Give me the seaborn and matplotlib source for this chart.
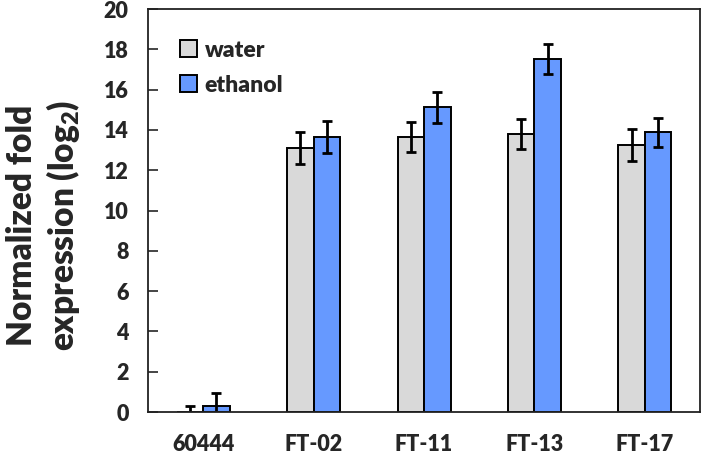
import numpy as np
import pandas as pd
import matplotlib
matplotlib.use("Agg")
import matplotlib.pyplot as plt
import seaborn as sns

# values
strains = ["60444", "FT-02", "FT-11", "FT-13", "FT-17"]
water = [0.02, 13.1, 13.66, 13.8, 13.27]
water_err = [0.3, 0.8, 0.75, 0.75, 0.8]
ethanol = [0.3, 13.65, 15.12, 17.52, 13.88]
ethanol_err = [0.65, 0.8, 0.76, 0.75, 0.73]

df = pd.DataFrame({
    "strain": strains * 2,
    "treatment": ["water"] * 5 + ["ethanol"] * 5,
    "value": water + ethanol,
    "err": water_err + ethanol_err,
})

sns.set_style("white")
plt.rcParams['font.family'] = ['Lato', 'DejaVu Sans']
plt.rcParams['font.weight'] = 'heavy'
plt.rcParams['mathtext.default'] = 'regular'

fig = plt.figure(figsize=(7.06, 4.54), dpi=100)
ax = fig.add_axes([0.2096, 0.0925, 0.782, 0.8875])

sns.barplot(data=df, x="strain", y="value", hue="treatment",
            palette={"water": "#d9d9d9", "ethanol": "#6699ff"},
            width=0.48, gap=0, errorbar=None, edgecolor="black",
            linewidth=1.4, saturation=1, ax=ax)

# error bars at the bar centres seaborn placed
bars = ax.patches[:len(df)]
for bar, e in zip(bars, df["err"]):
    cx = bar.get_x() + bar.get_width() / 2
    ax.errorbar(cx, bar.get_height(), yerr=e, fmt="none", ecolor="black",
                elinewidth=2, capsize=3.5, capthick=2)

ax.set_ylim(0, 20)
ax.set_xlim(-0.5, 4.5)
ax.set_yticks(range(0, 21, 2))
ax.set_xlabel("")
ax.set_ylabel("Normalized fold\nexpression (log$_2$)",
              fontsize=24, fontweight="heavy", linespacing=1.2)
ax.yaxis.set_label_coords(-0.12, 0.464)
ax.tick_params(axis="y", direction="in", length=7, width=1.2, labelsize=15.5,
               left=True, pad=14)
ax.tick_params(axis="x", length=0, labelsize=15.5, pad=16)
for lab in ax.get_xticklabels() + ax.get_yticklabels():
    lab.set_fontweight("heavy")
for s in ax.spines.values():
    s.set_color("#222222")
    s.set_linewidth(1.3)

leg = ax.legend(loc="upper left", frameon=False, fontsize=16.5,
                handlelength=0.75, handleheight=0.75, handletextpad=0.35,
                labelspacing=0.6, bbox_to_anchor=(0.02, 0.975))
for t in leg.get_texts():
    t.set_fontweight("heavy")

fig.savefig("out.png", dpi=100)
